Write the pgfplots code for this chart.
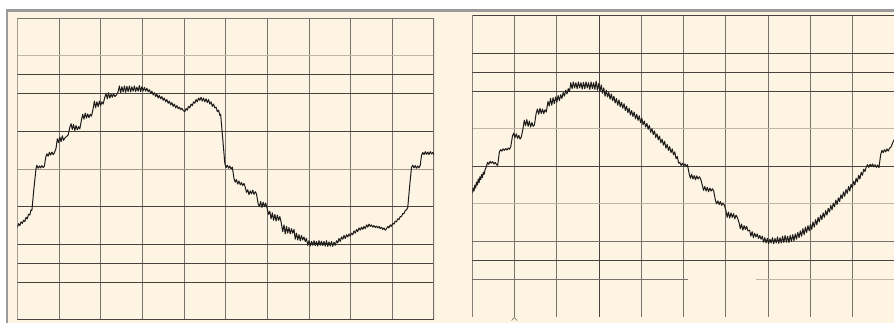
\documentclass[border=0pt]{standalone}
\usepackage{pgfplots}
\usepackage{pgfplotstable}
\pgfplotsset{compat=1.18}
\definecolor{cream}{RGB}{253,244,227}
\definecolor{border}{RGB}{155,155,155}
\definecolor{gridD}{RGB}{70,66,62}
\definecolor{gridM}{RGB}{120,114,108}
\definecolor{gridL}{RGB}{190,182,168}
\definecolor{gridZ}{RGB}{160,152,140}
\definecolor{trace}{RGB}{30,28,26}

\pgfplotstableread{
x y
0.00 -1.55
0.03 -1.45
0.06 -1.50
0.09 -1.40
0.12 -1.44
0.15 -1.36
0.18 -1.39
0.21 -1.28
0.24 -1.32
0.27 -1.20
0.30 -1.22
0.33 -1.08
0.35 -1.10
0.40 -0.50
0.45 0.02
0.47 0.10
0.50 0.02
0.53 0.08
0.56 0.03
0.59 0.09
0.62 0.04
0.65 0.07
0.68 0.30
0.71 0.40
0.74 0.34
0.77 0.44
0.80 0.37
0.83 0.45
0.86 0.38
0.89 0.43
0.93 0.55
0.96 0.80
0.99 0.70
1.02 0.85
1.05 0.72
1.08 0.88
1.11 0.76
1.14 0.82
1.18 0.86
1.22 0.90
1.26 1.10
1.29 1.20
1.32 1.05
1.35 1.18
1.38 1.02
1.41 1.15
1.44 1.04
1.47 1.12
1.50 1.06
1.54 1.30
1.57 1.45
1.60 1.32
1.63 1.48
1.66 1.35
1.69 1.46
1.72 1.36
1.75 1.45
1.78 1.40
1.82 1.60
1.85 1.80
1.88 1.62
1.91 1.78
1.94 1.65
1.97 1.80
2.00 1.68
2.03 1.78
2.06 1.72
2.10 1.90
2.13 2.00
2.16 1.86
2.19 2.02
2.22 1.88
2.25 1.98
2.28 1.90
2.31 2.00
2.34 1.92
2.38 1.96
2.42 2.05
2.45 2.20
2.48 2.02
2.51 2.18
2.54 2.04
2.57 2.20
2.60 2.03
2.63 2.19
2.66 2.05
2.69 2.20
2.72 2.04
2.75 2.18
2.78 2.06
2.81 2.20
2.84 2.05
2.87 2.17
2.90 2.06
2.93 2.21
2.96 2.05
2.99 2.18
3.02 2.07
3.05 2.16
3.08 2.06
3.11 2.14
3.14 2.05
3.17 2.10
3.20 2.00
3.23 2.06
3.26 1.96
3.29 2.02
3.32 1.92
3.35 1.98
3.38 1.88
3.41 1.95
3.44 1.86
3.47 1.92
3.50 1.82
3.53 1.88
3.56 1.78
3.59 1.84
3.62 1.74
3.65 1.80
3.68 1.70
3.71 1.76
3.74 1.66
3.77 1.72
3.80 1.62
3.83 1.68
3.86 1.60
3.89 1.64
3.92 1.57
3.95 1.61
3.98 1.55
4.02 1.52
4.05 1.60
4.08 1.56
4.11 1.66
4.14 1.62
4.17 1.72
4.20 1.68
4.23 1.78
4.26 1.74
4.29 1.84
4.32 1.78
4.35 1.88
4.38 1.82
4.41 1.90
4.44 1.80
4.47 1.88
4.50 1.78
4.53 1.86
4.56 1.76
4.59 1.84
4.62 1.72
4.65 1.78
4.68 1.66
4.71 1.72
4.74 1.62
4.77 1.64
4.80 1.52
4.83 1.56
4.86 1.42
4.88 1.45
4.93 0.80
4.98 0.15
5.01 0.04
5.04 0.10
5.07 0.02
5.10 0.08
5.13 0.00
5.16 0.05
5.20 -0.25
5.23 -0.35
5.26 -0.28
5.29 -0.40
5.32 -0.32
5.35 -0.42
5.38 -0.36
5.41 -0.44
5.44 -0.38
5.47 -0.48
5.50 -0.62
5.53 -0.55
5.56 -0.68
5.59 -0.58
5.62 -0.66
5.65 -0.56
5.68 -0.67
5.71 -0.60
5.74 -0.66
5.78 -0.92
5.81 -1.00
5.84 -0.86
5.87 -1.02
5.90 -0.88
5.93 -1.00
5.96 -0.90
5.99 -1.02
6.03 -1.20
6.06 -1.12
6.09 -1.32
6.12 -1.16
6.15 -1.36
6.18 -1.20
6.21 -1.38
6.24 -1.22
6.27 -1.36
6.30 -1.26
6.33 -1.40
6.37 -1.66
6.40 -1.48
6.43 -1.72
6.46 -1.52
6.49 -1.70
6.52 -1.55
6.55 -1.72
6.58 -1.58
6.61 -1.70
6.64 -1.60
6.67 -1.86
6.70 -1.70
6.73 -1.88
6.76 -1.74
6.79 -1.90
6.82 -1.76
6.85 -1.88
6.88 -1.80
6.91 -1.92
6.94 -1.84
6.97 -2.02
7.00 -1.90
7.03 -2.04
7.06 -1.92
7.09 -2.02
7.12 -1.90
7.15 -2.03
7.18 -1.92
7.21 -2.04
7.24 -1.90
7.27 -2.02
7.30 -1.91
7.33 -2.03
7.36 -1.92
7.39 -2.04
7.42 -1.90
7.45 -2.05
7.48 -1.93
7.51 -2.04
7.54 -1.92
7.57 -2.05
7.60 -1.94
7.63 -2.02
7.66 -1.90
7.69 -1.96
7.72 -1.84
7.75 -1.92
7.78 -1.80
7.81 -1.86
7.84 -1.76
7.87 -1.84
7.90 -1.74
7.93 -1.80
7.96 -1.72
7.99 -1.78
8.02 -1.70
8.05 -1.74
8.08 -1.64
8.11 -1.70
8.14 -1.60
8.17 -1.66
8.20 -1.56
8.23 -1.62
8.26 -1.54
8.29 -1.60
8.32 -1.52
8.35 -1.58
8.38 -1.48
8.41 -1.54
8.44 -1.46
8.47 -1.52
8.50 -1.48
8.53 -1.54
8.56 -1.50
8.59 -1.55
8.62 -1.51
8.65 -1.56
8.68 -1.52
8.71 -1.58
8.74 -1.54
8.77 -1.60
8.80 -1.56
8.83 -1.62
8.86 -1.58
8.89 -1.52
8.92 -1.56
8.95 -1.48
8.98 -1.52
9.01 -1.44
9.04 -1.46
9.07 -1.38
9.10 -1.40
9.13 -1.32
9.16 -1.34
9.19 -1.26
9.22 -1.26
9.25 -1.18
9.28 -1.18
9.31 -1.10
9.34 -1.08
9.37 -1.02
9.42 -0.40
9.46 0.04
9.49 0.10
9.52 0.03
9.55 0.09
9.58 0.02
9.61 0.08
9.64 0.03
9.67 0.10
9.70 0.36
9.73 0.44
9.76 0.38
9.79 0.46
9.82 0.39
9.85 0.45
9.88 0.38
9.91 0.46
9.94 0.40
9.97 0.44
10.00 0.38
}\lefttrace

\pgfplotstableread{
x y
0.00 -0.72
0.02 -0.58
0.04 -0.66
0.06 -0.50
0.08 -0.58
0.10 -0.42
0.12 -0.50
0.14 -0.34
0.16 -0.44
0.18 -0.28
0.20 -0.36
0.22 -0.22
0.24 -0.30
0.26 -0.16
0.28 -0.22
0.30 -0.10
0.33 -0.02
0.36 0.10
0.39 0.05
0.42 0.13
0.45 0.08
0.48 0.12
0.51 0.06
0.54 0.10
0.57 0.05
0.60 0.02
0.64 0.38
0.67 0.44
0.70 0.40
0.73 0.46
0.76 0.42
0.79 0.47
0.82 0.43
0.85 0.48
0.88 0.45
0.91 0.52
0.95 0.80
0.98 0.88
1.01 0.76
1.04 0.86
1.07 0.74
1.10 0.82
1.13 0.72
1.16 0.78
1.20 1.00
1.23 1.22
1.26 1.08
1.29 1.24
1.32 1.06
1.35 1.20
1.38 1.04
1.41 1.16
1.44 1.06
1.47 1.10
1.51 1.40
1.54 1.52
1.57 1.38
1.60 1.54
1.63 1.40
1.66 1.52
1.69 1.40
1.72 1.50
1.75 1.44
1.79 1.72
1.82 1.60
1.85 1.80
1.88 1.62
1.91 1.82
1.94 1.66
1.97 1.84
2.00 1.70
2.03 1.88
2.06 1.74
2.09 1.90
2.12 1.80
2.15 1.96
2.18 1.86
2.21 2.02
2.24 1.92
2.27 2.06
2.30 1.98
2.33 2.22
2.36 2.06
2.39 2.24
2.42 2.08
2.45 2.22
2.48 2.06
2.51 2.24
2.54 2.08
2.57 2.22
2.60 2.05
2.63 2.23
2.66 2.06
2.69 2.24
2.72 2.08
2.75 2.22
2.78 2.04
2.81 2.24
2.84 2.06
2.87 2.22
2.90 2.04
2.93 2.26
2.96 2.02
2.99 2.20
3.02 1.98
3.05 2.16
3.08 1.94
3.11 2.08
3.14 1.86
3.17 2.02
3.20 1.84
3.23 1.96
3.26 1.78
3.29 1.92
3.32 1.74
3.35 1.86
3.38 1.68
3.41 1.80
3.44 1.62
3.47 1.76
3.50 1.58
3.53 1.70
3.56 1.54
3.59 1.66
3.62 1.48
3.65 1.60
3.68 1.42
3.71 1.54
3.74 1.36
3.77 1.48
3.80 1.32
3.83 1.44
3.86 1.26
3.89 1.38
3.92 1.22
3.95 1.34
3.98 1.16
4.01 1.28
4.04 1.10
4.07 1.20
4.10 1.04
4.13 1.14
4.16 0.98
4.19 1.08
4.22 0.90
4.25 1.00
4.28 0.84
4.31 0.94
4.34 0.76
4.37 0.86
4.40 0.70
4.43 0.80
4.46 0.62
4.49 0.72
4.52 0.56
4.55 0.66
4.58 0.48
4.61 0.58
4.64 0.42
4.67 0.52
4.70 0.36
4.73 0.46
4.76 0.30
4.79 0.38
4.82 0.20
4.85 0.26
4.88 0.08
4.91 0.10
4.94 0.02
4.97 0.08
5.00 0.01
5.03 0.06
5.06 0.00
5.09 0.04
5.13 -0.20
5.16 -0.32
5.19 -0.22
5.22 -0.34
5.25 -0.25
5.28 -0.36
5.31 -0.26
5.34 -0.34
5.37 -0.28
5.40 -0.33
5.44 -0.50
5.47 -0.64
5.50 -0.54
5.53 -0.66
5.56 -0.56
5.59 -0.68
5.62 -0.58
5.65 -0.66
5.68 -0.60
5.71 -0.65
5.75 -0.90
5.78 -1.00
5.81 -0.92
5.84 -1.02
5.87 -0.94
5.90 -1.04
5.93 -0.98
5.96 -1.03
6.00 -1.18
6.03 -1.36
6.06 -1.22
6.09 -1.38
6.12 -1.24
6.15 -1.36
6.18 -1.26
6.21 -1.40
6.24 -1.30
6.27 -1.36
6.31 -1.50
6.34 -1.66
6.37 -1.54
6.40 -1.70
6.43 -1.58
6.46 -1.68
6.49 -1.60
6.52 -1.72
6.56 -1.70
6.59 -1.86
6.62 -1.74
6.65 -1.90
6.68 -1.78
6.71 -1.88
6.74 -1.80
6.77 -1.92
6.80 -1.84
6.83 -1.94
6.86 -1.86
6.89 -2.02
6.92 -1.90
6.95 -2.04
6.98 -1.92
7.01 -2.06
7.04 -1.94
7.07 -2.04
7.10 -1.90
7.13 -2.06
7.16 -1.92
7.19 -2.04
7.22 -1.88
7.25 -2.05
7.28 -1.90
7.31 -2.04
7.34 -1.86
7.37 -2.03
7.40 -1.84
7.43 -2.02
7.46 -1.86
7.49 -2.03
7.52 -1.84
7.55 -2.00
7.58 -1.82
7.61 -1.98
7.64 -1.80
7.67 -1.94
7.70 -1.76
7.73 -1.90
7.76 -1.72
7.79 -1.86
7.82 -1.66
7.85 -1.82
7.88 -1.62
7.91 -1.76
7.94 -1.58
7.97 -1.72
8.00 -1.54
8.03 -1.68
8.06 -1.48
8.09 -1.62
8.12 -1.42
8.15 -1.56
8.18 -1.36
8.21 -1.48
8.24 -1.30
8.27 -1.42
8.30 -1.24
8.33 -1.36
8.36 -1.18
8.39 -1.30
8.42 -1.12
8.45 -1.22
8.48 -1.04
8.51 -1.16
8.54 -0.98
8.57 -1.08
8.60 -0.90
8.63 -1.02
8.66 -0.84
8.69 -0.94
8.72 -0.76
8.75 -0.86
8.78 -0.68
8.81 -0.80
8.84 -0.62
8.87 -0.72
8.90 -0.54
8.93 -0.66
8.96 -0.48
8.99 -0.58
9.02 -0.40
9.05 -0.50
9.08 -0.32
9.11 -0.42
9.14 -0.24
9.17 -0.34
9.20 -0.16
9.23 -0.24
9.26 -0.08
9.29 -0.14
9.32 -0.02
9.35 0.04
9.38 -0.03
9.41 0.05
9.44 0.00
9.47 0.06
9.50 -0.02
9.53 0.04
9.56 -0.03
9.59 0.03
9.62 -0.04
9.66 0.30
9.69 0.42
9.72 0.36
9.75 0.44
9.78 0.38
9.81 0.46
9.84 0.40
9.87 0.48
9.90 0.50
9.93 0.58
9.96 0.66
9.99 0.72
}\righttrace

\begin{document}
\begin{tikzpicture}[x=1pt,y=1pt]
\path[use as bounding box] (0,0) rectangle (894,323);
\fill[white] (0,0) rectangle (894,323);
\fill[cream] (7,0) rectangle (894,312);
\draw[border, line width=2.5pt] (5.8,312.7) -- (894,312.7);
\draw[border, line width=2.2pt] (7,0) -- (7,313.9);

% left panel
\begin{axis}[
  at={(17.3pt,3pt)}, anchor=south west,
  scale only axis, width=416.7pt, height=302pt,
  xmin=0, xmax=10, ymin=-4, ymax=4,
  ticks=none, axis line style={draw=none},
  clip=true,
]
\foreach \xx in {1,...,9} {
  \edef\tmp{\noexpand\draw[gridM, line width=0.9pt] (axis cs:\xx,-4) -- (axis cs:\xx,4);}
  \tmp
}
\foreach \yy in {2.5,2,1,-1,-2,-2.5,-3} {
  \edef\tmp{\noexpand\draw[gridD, line width=0.9pt] (axis cs:0,\yy) -- (axis cs:10,\yy);}
  \tmp
}
\draw[gridL, line width=0.9pt] (axis cs:0,3) -- (axis cs:10,3);
\draw[gridZ, line width=0.9pt] (axis cs:0,0) -- (axis cs:10,0);
\draw[gridM, line width=1pt] (axis cs:0,4) -- (axis cs:10,4);
\draw[gridM, line width=1.1pt] (axis cs:0,-4) -- (axis cs:0,4);
\draw[gridM, line width=1.1pt] (axis cs:10,-4) -- (axis cs:10,4);
\draw[gridD, line width=1.1pt] (axis cs:0,-4) -- (axis cs:10,-4);
\addplot[trace, line width=1pt, line join=round, mark=none] table[x=x,y=y] {\lefttrace};
\end{axis}

% right panel
\begin{axis}[
  at={(472.3pt,6.3pt)}, anchor=south west,
  scale only axis, width=422.7pt, height=301pt,
  xmin=0, xmax=10, ymin=-4, ymax=4,
  ticks=none, axis line style={draw=none},
  clip=true,
]
\foreach \xx in {1,2,4,5,6,7,8,9} {
  \edef\tmp{\noexpand\draw[gridM, line width=0.9pt] (axis cs:\xx,-4) -- (axis cs:\xx,4);}
  \tmp
}
\draw[gridD, line width=0.9pt] (axis cs:3,-4) -- (axis cs:3,4);
\foreach \yy in {3,2.5,2,0,-2.5} {
  \edef\tmp{\noexpand\draw[gridD, line width=0.9pt] (axis cs:0,\yy) -- (axis cs:10,\yy);}
  \tmp
}
\draw[gridM, line width=0.9pt] (axis cs:0,-2) -- (axis cs:10,-2);
\draw[gridL, line width=0.9pt] (axis cs:0,1) -- (axis cs:10,1);
\draw[gridL, line width=0.9pt] (axis cs:0,-1) -- (axis cs:10,-1);
\draw[gridM, line width=0.9pt] (axis cs:0,-3) -- (axis cs:5.1,-3);
\draw[gridL, line width=0.9pt] (axis cs:6.7,-3) -- (axis cs:10,-3);
\draw[gridD, line width=1pt] (axis cs:0,4) -- (axis cs:10,4);
\draw[gridD, line width=1.1pt] (axis cs:0,-4) -- (axis cs:0,4);
\addplot[trace, line width=1pt, line join=round, mark=none] table[x=x,y=y] {\righttrace};
\end{axis}
\draw[gridM, line width=0.6pt] (511.5,2.5) -- (514.3,5.5) -- (517.1,2.5);
\end{tikzpicture}
\end{document}
